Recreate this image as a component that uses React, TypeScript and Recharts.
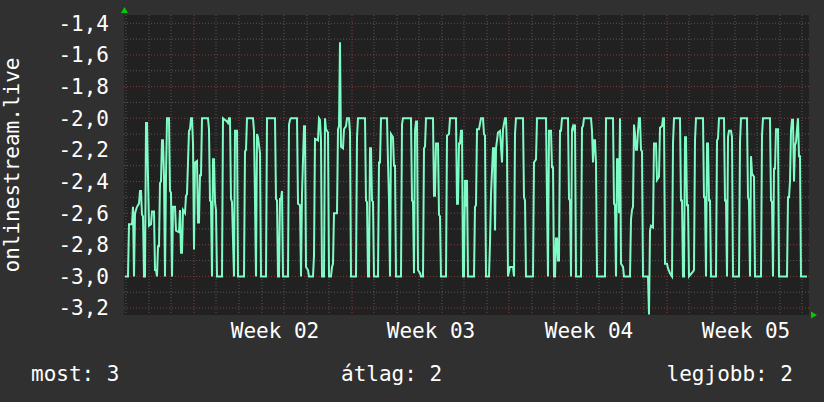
import { LineChart, Line, XAxis, YAxis, CartesianGrid } from "recharts";

// one slot = one consolidated step (~64 min), 685 slots across the plot
const weekLabels = ["Week 02", "Week 03", "Week 04", "Week 05"];
const weekLabelSlots = [151, 307, 465, 622];
const weekStartSlots = [70, 228, 385, 543];
const daySlots = [
  2, 25, 47, 92, 115, 138, 160, 183, 205, 250, 273, 295, 318, 340, 363, 408,
  430, 453, 475, 498, 520, 565, 588, 611, 633, 656, 678,
];
const yTicks = [-3.2, -3.0, -2.8, -2.6, -2.4, -2.2, -2.0, -1.8, -1.6, -1.4];
const yMinor = [-3.1, -2.9, -2.7, -2.5, -2.3, -2.1, -1.9, -1.7, -1.5];

const week1: [number, number][] = [
  [1, -3.0], [4, -3.0], [5, -2.67], [8, -2.67], [9, -2.56], [10, -3.0], [11, -2.6],
  [13, -2.56], [15, -2.54], [16, -2.46], [17, -2.46], [18, -2.61], [19, -2.62],
  [20, -3.0], [21, -3.0], [22, -2.03], [23, -2.03], [24, -2.37], [25, -2.68],
  [27, -2.67], [28, -2.59], [30, -2.59], [31, -2.96], [32, -2.96], [33, -3.0],
  [34, -2.81], [35, -2.81], [36, -2.41], [37, -2.4], [38, -2.14], [39, -2.14],
  [40, -2.37], [41, -3.0], [42, -2.37], [43, -2.0], [45, -2.0], [46, -2.46],
  [47, -2.47], [48, -3.0], [49, -2.56], [51, -2.56], [52, -2.71], [55, -2.72],
  [56, -2.58], [57, -2.85], [58, -2.85], [59, -2.58], [61, -2.6], [62, -2.49],
  [63, -2.48], [65, -2.08], [66, -2.07], [67, -2.0], [68, -2.0], [69, -2.16],
];

const week2: [number, number][] = [
  [70, -2.83], [71, -2.28], [73, -2.27], [74, -2.66], [75, -2.66], [76, -2.36],
  [77, -2.36], [78, -2.0], [84, -2.0], [85, -2.07], [86, -2.52], [87, -2.53],
  [88, -3.0], [89, -2.26], [90, -2.26], [91, -2.53], [92, -2.58], [93, -3.0],
  [98, -3.0], [99, -2.0], [103, -2.02], [104, -2.03], [105, -2.0], [106, -2.0],
  [107, -2.51], [108, -2.53], [110, -3.0], [111, -2.08], [113, -2.08], [114, -3.0],
  [120, -3.0], [121, -2.21], [122, -2.2], [123, -2.0], [129, -2.0], [130, -2.08],
  [131, -2.52], [132, -3.0], [133, -2.1], [134, -2.12], [136, -2.22], [137, -3.0],
  [142, -3.0], [143, -2.0], [151, -2.0], [152, -2.51], [153, -2.52], [154, -3.0],
  [155, -3.0], [156, -2.51], [157, -2.51], [158, -2.46], [159, -3.0], [164, -3.0],
  [165, -2.04], [166, -2.01], [167, -2.0], [173, -2.0], [174, -2.54], [176, -2.55],
  [177, -3.0], [178, -2.48], [180, -2.05], [181, -2.05], [182, -2.94], [184, -2.96],
  [185, -3.0], [189, -3.0], [190, -2.87], [191, -2.13], [194, -2.14], [195, -2.0],
  [196, -2.01], [197, -2.14], [198, -3.0], [200, -3.0], [201, -2.0], [202, -2.07],
  [204, -2.09], [205, -3.0], [207, -3.0], [208, -2.94], [209, -2.92], [210, -2.6],
  [213, -2.6], [214, -2.07], [215, -2.05], [216, -1.52], [217, -2.18], [219, -2.19],
  [220, -2.07], [222, -2.05], [223, -2.0], [225, -2.0], [226, -2.09],
];

const week3: [number, number][] = [
  [227, -3.0], [232, -3.0], [233, -2.12], [234, -2.0], [241, -2.0], [242, -2.52],
  [243, -2.53], [244, -3.0], [245, -3.0], [246, -2.19], [247, -2.19], [248, -2.52],
  [249, -2.53], [250, -3.0], [254, -3.0], [255, -2.28], [256, -2.28], [257, -2.0],
  [263, -2.0], [264, -2.28], [265, -2.52], [266, -3.0], [267, -2.1], [269, -2.12],
  [270, -2.3], [271, -2.3], [272, -3.0], [277, -3.0], [278, -2.04], [279, -2.0],
  [287, -2.0], [288, -2.52], [289, -2.53], [290, -2.98], [291, -2.08], [292, -2.02],
  [293, -2.02], [294, -2.96], [296, -2.98], [297, -3.0], [299, -3.0], [300, -2.19],
  [301, -2.18], [302, -2.0], [309, -2.0], [310, -2.49], [311, -2.49], [312, -2.16],
  [314, -2.16], [315, -2.61], [316, -2.62], [317, -3.0], [322, -3.0], [323, -2.11],
  [325, -2.1], [326, -2.0], [332, -2.0], [333, -2.54], [334, -2.54], [335, -2.16],
  [336, -2.16], [337, -2.08], [338, -2.08], [339, -3.0], [340, -3.0], [341, -2.39],
  [342, -2.56], [343, -2.39], [344, -3.0], [350, -3.0], [351, -2.56], [352, -2.55],
  [353, -2.07], [355, -2.07], [357, -2.0], [359, -2.0], [360, -2.1], [361, -2.11],
  [362, -3.0], [365, -3.0], [366, -2.79], [367, -2.48], [369, -2.19], [370, -2.19],
  [371, -2.71], [372, -2.19], [374, -2.09], [376, -2.08], [378, -2.28], [379, -2.07],
  [381, -2.0], [382, -2.0], [383, -2.2],
];

const week4: [number, number][] = [
  [384, -3.0], [386, -2.94], [389, -2.94], [390, -3.0], [391, -2.1], [392, -2.0],
  [399, -2.0], [400, -2.5], [401, -2.52], [402, -3.0], [409, -3.0], [410, -2.28],
  [412, -2.26], [413, -2.0], [422, -2.0], [423, -2.52], [424, -3.0], [425, -2.08],
  [427, -2.08], [428, -2.31], [429, -2.31], [430, -3.0], [431, -3.0], [432, -2.76],
  [433, -2.76], [434, -2.9], [435, -2.9], [436, -2.08], [437, -2.08], [438, -2.0],
  [444, -2.0], [445, -2.51], [446, -2.52], [447, -3.0], [448, -2.07], [449, -2.05],
  [450, -2.07], [451, -2.04], [452, -3.0], [457, -3.0], [458, -2.06], [459, -2.05],
  [460, -2.0], [467, -2.0], [468, -2.08], [469, -2.28], [470, -2.14], [471, -2.14],
  [472, -2.28], [473, -3.0], [481, -3.0], [482, -2.0], [489, -2.0], [490, -2.54],
  [491, -2.55], [492, -3.0], [493, -2.26], [494, -2.26], [495, -2.6], [496, -2.0],
  [497, -2.92], [499, -2.94], [500, -3.0], [506, -3.0], [507, -2.64], [508, -2.58],
  [509, -2.56], [510, -2.04], [511, -2.1], [512, -2.2], [513, -2.2], [514, -2.08],
  [515, -2.0], [516, -2.0], [517, -2.2], [518, -2.21], [519, -3.0], [524, -3.0],
  [525, -3.24], [526, -2.71], [527, -2.68], [529, -2.69], [530, -2.16], [532, -2.16],
  [533, -2.39], [535, -2.37], [536, -2.06], [538, -2.05], [539, -2.0], [540, -2.0],
  [541, -2.92],
];

const week5: [number, number][] = [
  [543, -2.92], [544, -2.95], [546, -2.98], [548, -3.0], [549, -2.16], [550, -2.0],
  [556, -2.0], [557, -2.52], [558, -2.52], [559, -3.0], [560, -3.0], [561, -2.12],
  [562, -2.12], [563, -2.55], [564, -2.55], [565, -3.0], [569, -2.97], [570, -2.96],
  [571, -2.14], [572, -2.0], [579, -2.0], [580, -2.5], [581, -2.5], [582, -3.0],
  [583, -2.16], [584, -2.16], [585, -2.52], [586, -2.52], [587, -3.0], [592, -3.0],
  [593, -2.14], [594, -2.13], [595, -2.0], [600, -2.0], [601, -2.52], [602, -2.52],
  [603, -3.0], [604, -2.12], [605, -2.08], [607, -2.08], [608, -2.12], [609, -3.0],
  [615, -3.0], [616, -2.15], [617, -2.0], [623, -2.0], [624, -2.5], [625, -2.52],
  [626, -3.0], [627, -2.24], [628, -2.35], [630, -2.37], [631, -3.0], [637, -3.0],
  [638, -2.11], [639, -2.0], [646, -2.0], [647, -2.52], [648, -2.53], [649, -3.0],
  [650, -2.32], [651, -2.32], [652, -2.07], [654, -2.07], [655, -3.0], [663, -3.0],
  [664, -2.5], [665, -2.5], [666, -2.4], [667, -2.08], [668, -2.01], [669, -2.01],
  [670, -2.4], [671, -2.17], [672, -2.15], [673, -2.07], [674, -2.0], [675, -2.24],
  [676, -2.24], [677, -3.0], [683, -3.0],
];

const legend = ["most: 3", "átlag: 2", "legjobb: 2"];
const yAxisTitle = "onlinestream.live";

const FONT = "'DejaVu Sans Mono', monospace";
const LINE = "#7ffcc6";

const data = [...week1, ...week2, ...week3, ...week4, ...week5].map(([slot, value]) => ({
  slot,
  value,
}));

function WeekTick({ x, y, payload }: any) {
  const i = weekLabelSlots.indexOf(payload.value);
  return (
    <text x={x} y={y} dy="0.71em" textAnchor="middle" fill="#fff" fontSize={21} fontFamily={FONT}>
      {weekLabels[i]}
    </text>
  );
}

export default function App() {
  return (
    <div
      style={{
        position: "fixed",
        top: 0,
        left: 0,
        width: 824,
        height: 402,
        background: "#303030",
        fontFamily: FONT,
      }}
    >
      <LineChart width={824} height={402} data={data} margin={{ top: 15, right: 15, bottom: 0, left: 0 }}>
        <CartesianGrid
          fill="#212121"
          stroke="#565656"
          strokeDasharray="1 2"
          horizontalValues={yMinor}
          verticalValues={daySlots}
        />
        <CartesianGrid
          stroke="#8a3a3a"
          strokeDasharray="1 2"
          horizontalValues={yTicks}
          verticalValues={weekStartSlots}
        />
        <XAxis
          dataKey="slot"
          type="number"
          domain={[0, 685]}
          ticks={weekLabelSlots}
          interval={0}
          height={87}
          axisLine={false}
          tickLine={false}
          tickSize={0}
          tickMargin={8}
          tick={<WeekTick />}
          allowDataOverflow
        />
        <YAxis
          type="number"
          domain={[-3.244, -1.3475]}
          ticks={yTicks}
          interval={0}
          width={124}
          axisLine={false}
          tickLine={false}
          tickSize={0}
          tickMargin={15}
          tickFormatter={(v: number) => v.toFixed(1).replace(".", ",")}
          tick={{ fill: "#fff", fontSize: 21, fontFamily: FONT }}
          allowDataOverflow
        />
        <Line
          type="linear"
          dataKey="value"
          stroke={LINE}
          strokeWidth={2}
          dot={false}
          isAnimationActive={false}
        />
      </LineChart>
      <svg
        width={824}
        height={402}
        style={{ position: "absolute", top: 0, left: 0, pointerEvents: "none" }}
      >
        <polygon points="121,13 128,13 124.5,7" fill="#00cc00" />
        <polygon points="811,311.5 811,318.5 817,315" fill="#00cc00" />
        <text
          x={19}
          y={165}
          transform="rotate(-90, 19, 165)"
          textAnchor="middle"
          fill="#fff"
          fontSize={21}
          fontFamily={FONT}
        >
          {yAxisTitle}
        </text>
        <text x={31} y={381} fill="#fff" fontSize={21} fontFamily={FONT}>
          {legend[0]}
        </text>
        <text x={341} y={381} fill="#fff" fontSize={21} fontFamily={FONT}>
          {legend[1]}
        </text>
        <text x={793} y={381} textAnchor="end" fill="#fff" fontSize={21} fontFamily={FONT}>
          {legend[2]}
        </text>
      </svg>
    </div>
  );
}
